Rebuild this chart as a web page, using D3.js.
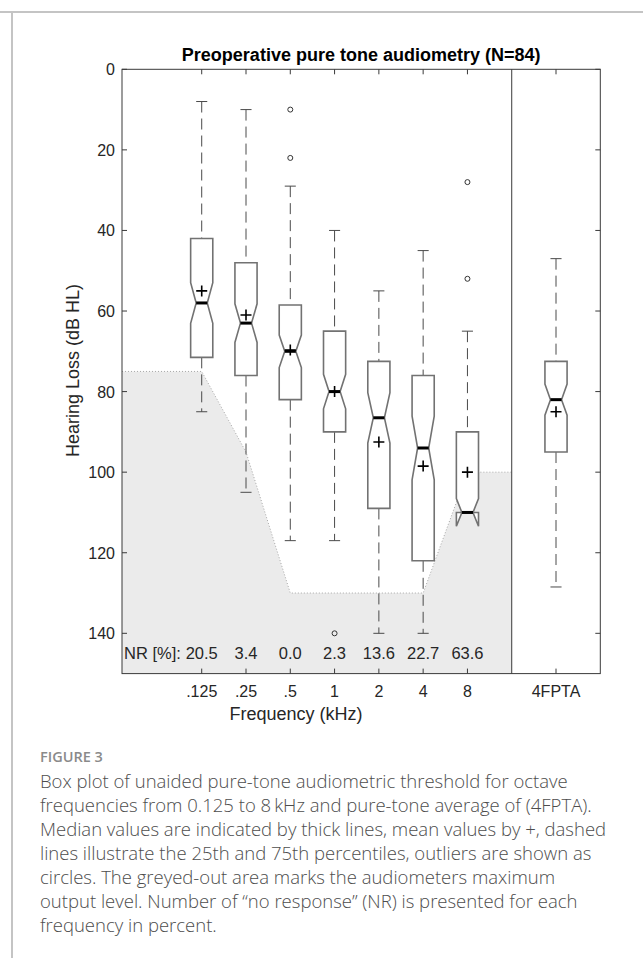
<!DOCTYPE html>
<head>
    <meta charset="utf-8">
    <script src="https://d3js.org/d3.v7.min.js"></script>
    <style>
        body { margin: 0; background: #fff; }
        .tick-label { font: 16px "Liberation Sans", Arial, sans-serif; fill: #262626; }
        .caption { font: 300 18.5px "Open Sans", sans-serif; fill: #4d4d4d; }
    </style>
</head>

<body>
    <div id='chart-container'></div>
</body>

<script>
    // frequencies (kHz) and the pure tone average, box positions on the x axis
    var categories = [".125", ".25", ".5", "1", "2", "4", "8", "4FPTA"]
    var positions = [1, 2, 3, 4, 5, 6, 7, 9]

    // box plot statistics in dB HL
    var whiskerTop = [8, 10, 29, 40, 55, 45, 65, 47]
    var q1 = [42, 48, 58.5, 65, 72.5, 76, 90, 72.5]
    var median = [58, 63, 70, 80, 86.5, 94, 110, 82]
    var q3 = [71.5, 76, 82, 90, 109, 122, 110, 95]
    var whiskerBottom = [85, 105, 117, 117, 140, 140, 110, 128.5]
    var means = [55, 61, 69.7, 80, 92.5, 98.5, 100, 85]
    var outliers = [[], [], [10, 22], [140], [], [], [28, 52], []]
    var sampleSize = 84

    // "no response" percentages per frequency
    var nrPercent = ["20.5", "3.4", "0.0", "2.3", "13.6", "22.7", "63.6"]

    // audiometer maximum output level per frequency (dB HL)
    var maxOutput = [75, 95, 130, 130, 130, 130, 100]

    var yTicks = [0, 20, 40, 60, 80, 100, 120, 140]

    var captionLines = [
        "Box plot of unaided pure-tone audiometric threshold for octave",
        "frequencies from 0.125 to 8\u2009kHz and pure-tone average of (4FPTA).",
        "Median values are indicated by thick lines, mean values by +, dashed",
        "lines illustrate the 25th and 75th percentiles, outliers are shown as",
        "circles. The greyed-out area marks the audiometers maximum",
        "output level. Number of \u201cno response\u201d (NR) is presented for each",
        "frequency in percent."
    ]

    var W = 643, H = 958
    var svg = d3.select("#chart-container").append("svg")
        .attr("width", W)
        .attr("height", H)

    // page frame
    svg.append("line").attr("x1", 0).attr("x2", W).attr("y1", 12).attr("y2", 12)
        .attr("stroke", "#c4c4c4").attr("stroke-width", 2)
    svg.append("line").attr("x1", 12).attr("x2", 12).attr("y1", 12).attr("y2", H)
        .attr("stroke", "#c4c4c4").attr("stroke-width", 2)

    var x = d3.scaleLinear().domain([-0.8, 10]).range([122, 600.3])
    var y = d3.scaleLinear().domain([0, 150]).range([69.3, 673.6])
    var divider = 8

    // greyed-out area above the audiometer limit
    var limitPts = [[-0.8, maxOutput[0]]]
    maxOutput.forEach(function(d, i) { limitPts.push([positions[i], d]) })
    limitPts.push([divider, maxOutput[maxOutput.length - 1]])

    var area = d3.area()
        .x(function(d) { return x(d[0]) })
        .y0(y(150))
        .y1(function(d) { return y(d[1]) })
    svg.append("path").datum(limitPts)
        .attr("d", area)
        .attr("fill", "#ebebeb")
    svg.append("path").datum(limitPts)
        .attr("d", d3.line().x(function(d) { return x(d[0]) }).y(function(d) { return y(d[1]) }))
        .attr("fill", "none")
        .attr("stroke", "#a8a8a8")
        .attr("stroke-width", 1)
        .attr("stroke-dasharray", "1,2")

    // axes frame and ticks
    var axisColor = "#3a3a3a"
    svg.append("rect")
        .attr("x", x(-0.8)).attr("y", y(0))
        .attr("width", x(10) - x(-0.8)).attr("height", y(150) - y(0))
        .attr("fill", "none").attr("stroke", axisColor).attr("stroke-width", 1)
    svg.append("line")
        .attr("x1", x(divider)).attr("x2", x(divider))
        .attr("y1", y(0)).attr("y2", y(150))
        .attr("stroke", axisColor).attr("stroke-width", 1)

    var tickLen = 5
    var gTicks = svg.append("g").attr("stroke", axisColor).attr("stroke-width", 1)
    positions.forEach(function(p) {
        gTicks.append("line").attr("x1", x(p)).attr("x2", x(p))
            .attr("y1", y(0)).attr("y2", y(0) + tickLen)
        gTicks.append("line").attr("x1", x(p)).attr("x2", x(p))
            .attr("y1", y(150)).attr("y2", y(150) - tickLen)
    })
    yTicks.forEach(function(t) {
        gTicks.append("line").attr("x1", x(-0.8)).attr("x2", x(-0.8) + tickLen)
            .attr("y1", y(t)).attr("y2", y(t))
        gTicks.append("line").attr("x1", x(10)).attr("x2", x(10) - tickLen)
            .attr("y1", y(t)).attr("y2", y(t))
    })

    svg.selectAll(".ylab").data(yTicks).enter().append("text")
        .attr("class", "tick-label")
        .attr("x", 115)
        .attr("y", function(d) { return y(d) + 6 })
        .attr("text-anchor", "end")
        .text(function(d) { return d })

    svg.selectAll(".xlab").data(categories).enter().append("text")
        .attr("class", "tick-label")
        .attr("x", function(d, i) { return x(positions[i]) })
        .attr("y", 697)
        .attr("text-anchor", "middle")
        .text(function(d) { return d })

    // NR row
    svg.append("text").attr("class", "tick-label")
        .attr("x", 124).attr("y", 659)
        .style("font-size", "16.5px")
        .text("NR [%]:")
    svg.selectAll(".nr").data(nrPercent).enter().append("text")
        .attr("class", "tick-label")
        .style("font-size", "16.5px")
        .attr("x", function(d, i) { return x(positions[i]) })
        .attr("y", 659)
        .attr("text-anchor", "middle")
        .text(function(d) { return d })

    // boxes
    var boxW = x(0.5) - x(0)
    var boxColor = "#727272"
    var whiskerColor = "#4a4a4a"
    var boxes = svg.append("g")

    categories.forEach(function(c, i) {
        var cx = x(positions[i])
        var l = cx - boxW / 2, r = cx + boxW / 2
        var notch = 1.57 * (q3[i] - q1[i]) / Math.sqrt(sampleSize)
        var g = boxes.append("g")

        // whiskers
        if (whiskerTop[i] < q1[i]) {
            g.append("line").attr("x1", cx).attr("x2", cx)
                .attr("y1", y(whiskerTop[i])).attr("y2", y(q1[i]))
                .attr("stroke", whiskerColor).attr("stroke-dasharray", "11,6")
            g.append("line").attr("x1", cx - boxW / 4).attr("x2", cx + boxW / 4)
                .attr("y1", y(whiskerTop[i])).attr("y2", y(whiskerTop[i]))
                .attr("stroke", whiskerColor)
        }
        if (whiskerBottom[i] > q3[i]) {
            g.append("line").attr("x1", cx).attr("x2", cx)
                .attr("y1", y(q3[i])).attr("y2", y(whiskerBottom[i]))
                .attr("stroke", whiskerColor).attr("stroke-dasharray", "11,6")
            g.append("line").attr("x1", cx - boxW / 4).attr("x2", cx + boxW / 4)
                .attr("y1", y(whiskerBottom[i])).attr("y2", y(whiskerBottom[i]))
                .attr("stroke", whiskerColor)
        }

        // notched box outline
        var pts = [
            [l, y(q1[i])], [l, y(median[i] - notch)], [cx - boxW / 4, y(median[i])],
            [l, y(median[i] + notch)], [l, y(q3[i])], [r, y(q3[i])],
            [r, y(median[i] + notch)], [cx + boxW / 4, y(median[i])],
            [r, y(median[i] - notch)], [r, y(q1[i])]
        ]
        g.append("polygon")
            .attr("points", pts.map(function(p) { return p.join(",") }).join(" "))
            .attr("fill", "#fff")
            .attr("stroke", boxColor)
            .attr("stroke-width", 1.6)
            .attr("stroke-linejoin", "miter")

        // median
        g.append("line").attr("x1", cx - boxW / 4).attr("x2", cx + boxW / 4)
            .attr("y1", y(median[i])).attr("y2", y(median[i]))
            .attr("stroke", "#000").attr("stroke-width", 3)

        // mean
        var m = 5.5
        g.append("path")
            .attr("d", "M" + (cx - m) + "," + y(means[i]) + "H" + (cx + m) +
                       "M" + cx + "," + (y(means[i]) - m) + "V" + (y(means[i]) + m))
            .attr("stroke", "#000").attr("stroke-width", 1.6)

        // outliers
        g.selectAll("circle").data(outliers[i]).enter().append("circle")
            .attr("cx", cx).attr("cy", function(d) { return y(d) })
            .attr("r", 2.5)
            .attr("fill", "none").attr("stroke", "#333").attr("stroke-width", 1)
    })

    // titles
    svg.append("text")
        .attr("x", x(4.6)).attr("y", 61)
        .attr("text-anchor", "middle")
        .style("font", "bold 18px 'Liberation Sans', Arial, sans-serif")
        .attr("fill", "#000")
        .text("Preoperative pure tone audiometry (N=84)")

    svg.append("text")
        .attr("x", 296).attr("y", 720)
        .attr("text-anchor", "middle")
        .attr("class", "tick-label")
        .style("font-size", "18px")
        .text("Frequency (kHz)")

    svg.append("text")
        .attr("transform", "translate(79," + (y(75) - 1) + ") rotate(-90)")
        .attr("text-anchor", "middle")
        .attr("class", "tick-label")
        .style("font-size", "18px")
        .text("Hearing Loss (dB HL)")

    // caption
    svg.append("text")
        .attr("x", 40).attr("y", 762)
        .style("font", "600 14.5px 'Open Sans', sans-serif")
        .attr("fill", "#8a8a8a")
        .text("FIGURE 3")

    svg.selectAll(".cap").data(captionLines).enter().append("text")
        .attr("class", "caption")
        .attr("x", 40)
        .attr("y", function(d, i) { return 788 + i * 24 })
        .text(function(d) { return d })
</script>
